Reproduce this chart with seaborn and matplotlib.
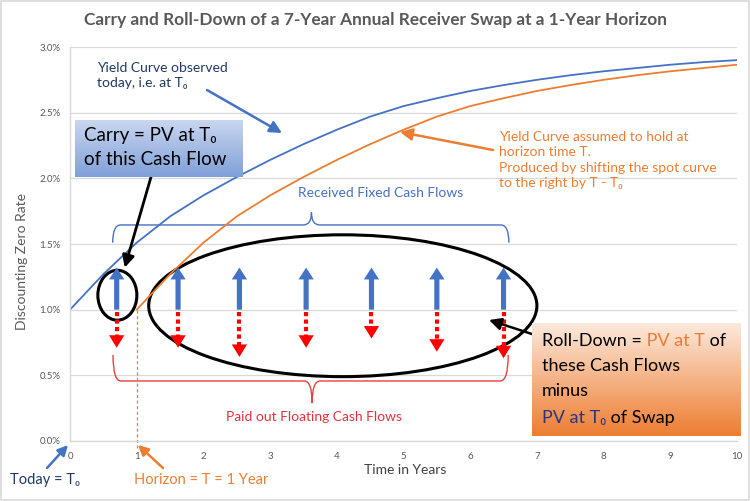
import numpy as np
import pandas as pd
import matplotlib
matplotlib.use("Agg")
import matplotlib.pyplot as plt
import seaborn as sns
from matplotlib.patches import Ellipse, Rectangle, PathPatch
from matplotlib.path import Path
from matplotlib.colors import LinearSegmentedColormap
from matplotlib.text import Annotation

# ---------------- data ----------------
today_t = [0.0, 0.5, 1.0, 1.5, 2.0, 2.5, 3.0, 3.5, 4.0, 4.5, 5.0,
           5.5, 6.0, 6.5, 7.0, 7.5, 8.0, 8.5, 9.0, 9.5, 10.0]
today_rate = [1.00, 1.27, 1.51, 1.71, 1.87, 2.01, 2.14, 2.26, 2.37, 2.47, 2.55,
              2.61, 2.665, 2.71, 2.75, 2.785, 2.815, 2.84, 2.865, 2.885, 2.90]
horizon_t = [1.0, 1.5, 2.0, 2.5, 3.0, 3.5, 4.0, 4.5, 5.0, 5.5,
             6.0, 6.5, 7.0, 7.5, 8.0, 8.5, 9.0, 9.5, 10.0]
horizon_rate = [1.00, 1.27, 1.51, 1.71, 1.87, 2.01, 2.14, 2.26, 2.37, 2.47,
                2.55, 2.61, 2.665, 2.71, 2.75, 2.785, 2.815, 2.84, 2.865]
cf_times = [0.70, 1.62, 2.54, 3.54, 4.52, 5.50, 6.50]
cf_base = 1.0
fixed_tip = [1.32, 1.32, 1.32, 1.32, 1.32, 1.32, 1.32]
float_tip = [0.71, 0.71, 0.64, 0.71, 0.78, 0.68, 0.63]
x_ticks = [0, 1, 2, 3, 4, 5, 6, 7, 8, 9, 10]
y_ticks = [0.0, 0.5, 1.0, 1.5, 2.0, 2.5, 3.0]
y_tick_labels = ["0.0%", "0.5%", "1.0%", "1.5%", "2.0%", "2.5%", "3.0%"]

title = "Carry and Roll-Down of a 7-Year Annual Receiver Swap at a 1-Year Horizon"

BLUE = "#4472C4"
ORANGE = "#ED7D31"
RED = "#FF0000"
RED_TXT = "#E8303A"
NAVY = "#1F3864"
GRAY = "#595959"
GRID = "#D9D9D9"

sns.set_theme(style="white")
plt.rcParams["font.family"] = ["Lato", "DejaVu Sans"]

W, H = 750, 501
fig = plt.figure(figsize=(7.5, 5.01), dpi=100)


def P(x, y):
    return (x / W, 1 - y / H)


ax = fig.add_axes([70 / W, 60 / H, 667 / W, 394 / H])

df_today = pd.DataFrame({"t": today_t, "rate": today_rate})
df_hor = pd.DataFrame({"t": horizon_t, "rate": horizon_rate})
sns.lineplot(data=df_today, x="t", y="rate", color=BLUE, lw=1.3, ax=ax)
sns.lineplot(data=df_hor, x="t", y="rate", color=ORANGE, lw=1.3, ax=ax)

ax.set_xlim(0, 10)
ax.set_ylim(0, 3.0)
ax.set_xticks(x_ticks)
ax.set_xticklabels([str(v) for v in x_ticks])
ax.set_yticks(y_ticks)
ax.set_yticklabels(y_tick_labels)
ax.tick_params(axis="both", length=0, labelsize=7, labelcolor=GRAY)
ax.tick_params(axis="x", pad=8)
ax.tick_params(axis="y", pad=7)
ax.set_xlabel("")
ax.set_ylabel("")
ax.grid(axis="y", color=GRID, lw=0.9)
ax.set_axisbelow(True)
for s in ["top", "right"]:
    ax.spines[s].set_visible(False)
for s in ["left", "bottom"]:
    ax.spines[s].set_color(GRID)
    ax.spines[s].set_linewidth(1.0)

# horizon dashed line
ax.plot([1, 1], [cf_base, -0.05], ls=(0, (2.5, 2)), color=ORANGE, lw=0.9, clip_on=False)

# cash flow arrows
for x, tip in zip(cf_times, fixed_tip):
    ax.annotate("", xy=(x, tip), xytext=(x, cf_base),
                arrowprops=dict(arrowstyle="simple,head_length=0.85,head_width=1.1,tail_width=0.37",
                                color=BLUE, lw=0, shrinkA=0, shrinkB=0, mutation_scale=10))
for x, tip in zip(cf_times, float_tip):
    ax.plot([x, x], [cf_base - 0.015, tip + 0.085], color=RED, lw=3.0,
            ls=(0, (1, 0.8)), dash_capstyle="butt")
    ax.annotate("", xy=(x, tip), xytext=(x, cf_base),
                arrowprops=dict(arrowstyle="simple,head_length=0.9,head_width=1.1,tail_width=0.001",
                                color=RED, lw=0, shrinkA=0, shrinkB=0, mutation_scale=10))

# ellipses
ax.add_patch(Ellipse((0.71, 1.11), 0.585, 0.38, fill=False, ec="black", lw=2.2))
ax.add_patch(Ellipse((4.09, 1.03), 5.82, 1.08, fill=False, ec="black", lw=2.2))


def brace(x0, x1, xm, y_end, y_line, y_tip, r, color):
    verts = [(x0, y_end), (x0, y_line), (x0 + r, y_line), (xm - r, y_line),
             (xm, y_line), (xm, y_tip), (xm, y_tip), (xm, y_line), (xm + r, y_line),
             (x1 - r, y_line), (x1, y_line), (x1, y_end)]
    codes = [Path.MOVETO, Path.CURVE3, Path.CURVE3, Path.LINETO,
             Path.CURVE3, Path.CURVE3, Path.MOVETO, Path.CURVE3, Path.CURVE3,
             Path.LINETO, Path.CURVE3, Path.CURVE3]
    ax.add_patch(PathPatch(Path(verts, codes), fill=False, ec=color, lw=1.0))


brace(0.64, 6.58, 3.62, 1.51, 1.645, 1.74, 0.12, BLUE)
brace(0.645, 6.57, 3.63, 0.655, 0.457, 0.29, 0.12, "#E84040")

ax.text(4.66, 1.89, "Received Fixed Cash Flows", color=BLUE, fontsize=10,
        ha="center", va="center")
ax.text(3.66, 0.18, "Paid out Floating Cash Flows", color=RED_TXT, fontsize=10,
        ha="center", va="center")

# title & axis labels
fig.text(*P(376, 20), title, color=GRAY, fontsize=12.4, fontweight="bold",
         ha="center", va="center")
fig.text(*P(22, 262), "Discounting Zero Rate", color=GRAY, fontsize=10,
         rotation=90, ha="center", va="center")
fig.text(*P(405, 470), "Time in Years", color="#404040", fontsize=10,
         ha="center", va="center")

# curve labels
fig.text(*P(97, 75.5), "Yield Curve observed\ntoday, i.e. at T\u2080", color=NAVY,
         fontsize=10, ha="left", va="center", linespacing=1.25)
ax.annotate("", xy=P(282, 133), xycoords="figure fraction", xytext=P(207, 90),
            textcoords="figure fraction",
            arrowprops=dict(arrowstyle="-|>,head_length=0.6,head_width=0.3", color=BLUE,
                            lw=1.8, shrinkA=0, shrinkB=0, mutation_scale=12))
fig.text(*P(499, 160),
         "Yield Curve assumed to hold at\nhorizon time T.\nProduced by shifting the spot curve\nto the right by T - T\u2080",
         color=ORANGE, fontsize=10, ha="left", va="center", linespacing=1.35)
ax.annotate("", xy=P(400, 132), xycoords="figure fraction", xytext=P(493, 150),
            textcoords="figure fraction",
            arrowprops=dict(arrowstyle="-|>,head_length=0.6,head_width=0.3", color=ORANGE,
                            lw=1.8, shrinkA=0, shrinkB=0, mutation_scale=12))

# bottom labels
fig.text(*P(45, 480), "Today = T\u2080", color=NAVY, fontsize=10.5, ha="center", va="center")
ax.annotate("", xy=P(68, 445), xycoords="figure fraction", xytext=P(47, 468),
            textcoords="figure fraction",
            arrowprops=dict(arrowstyle="-|>,head_length=0.6,head_width=0.3", color=BLUE,
                            lw=1.8, shrinkA=0, shrinkB=0, mutation_scale=10))
fig.text(*P(201, 480), "Horizon = T = 1 Year", color=ORANGE, fontsize=10.5,
         ha="center", va="center")
ax.annotate("", xy=P(138, 445), xycoords="figure fraction", xytext=P(163, 468),
            textcoords="figure fraction",
            arrowprops=dict(arrowstyle="-|>,head_length=0.6,head_width=0.3", color=ORANGE,
                            lw=1.8, shrinkA=0, shrinkB=0, mutation_scale=10))


def grad_box(x0, y0, x1, y1, top, bottom):
    bax = fig.add_axes([x0 / W, 1 - y1 / H, (x1 - x0) / W, (y1 - y0) / H])
    cmap = LinearSegmentedColormap.from_list("g", [top, bottom])
    bax.imshow(np.linspace(0, 1, 256).reshape(-1, 1), cmap=cmap, aspect="auto",
               extent=[0, 1, 0, 1], origin="upper")
    bax.set_axis_off()
    return bax


# Carry box
grad_box(75, 120, 243, 177, "#C9D7EF", "#7F9FD8")
fig.text(*P(84, 141), "Carry = PV at T\u2080", color="black", fontsize=13.5,
         ha="left", va="baseline")
fig.text(*P(84, 165), "of this Cash Flow", color="black", fontsize=13.5,
         ha="left", va="baseline")
ax.annotate("", xy=(0.82, 1.32), xycoords="data", xytext=P(151, 177),
            textcoords="figure fraction", annotation_clip=False,
            arrowprops=dict(arrowstyle="-|>,head_length=0.6,head_width=0.3", color="black",
                            lw=2.0, shrinkA=0, shrinkB=0, mutation_scale=12))

# Roll-Down box
grad_box(532, 323, 741, 436, "#FCE9DC", "#ED7D31")
ax.annotate("", xy=P(489, 320), xycoords="figure fraction", xytext=P(535, 335),
            textcoords="figure fraction",
            arrowprops=dict(arrowstyle="-|>,head_length=0.6,head_width=0.3", color="black",
                            lw=1.8, shrinkA=0, shrinkB=0, mutation_scale=12))


def multicolor(xpx, ypx, parts, size):
    t = fig.text(*P(xpx, ypx), parts[0][0], color=parts[0][1], fontsize=size,
                 ha="left", va="baseline")
    for s, c in parts[1:]:
        a = Annotation(s, xy=(1, 0), xycoords=t, color=c, fontsize=size,
                       ha="left", va="bottom", zorder=6)
        fig.add_artist(a)
        t = a
    return t


RD = 13
multicolor(542, 346, [("Roll-Down =", "black"), (" PV at T", ORANGE), (" of", "black")], RD)
multicolor(542, 371, [("these Cash Flows", "black")], RD)
multicolor(542, 396, [("minus", "black")], RD)
multicolor(542, 423, [("PV at T\u2080", "#2B3585"), (" of Swap", "black")], RD)

# chart border
fig.add_artist(Rectangle((0.001, 0.001), 0.998, 0.997, transform=fig.transFigure,
                         fill=False, ec="#D9D9D9", lw=1.2))

fig.savefig("out.png", dpi=100)
